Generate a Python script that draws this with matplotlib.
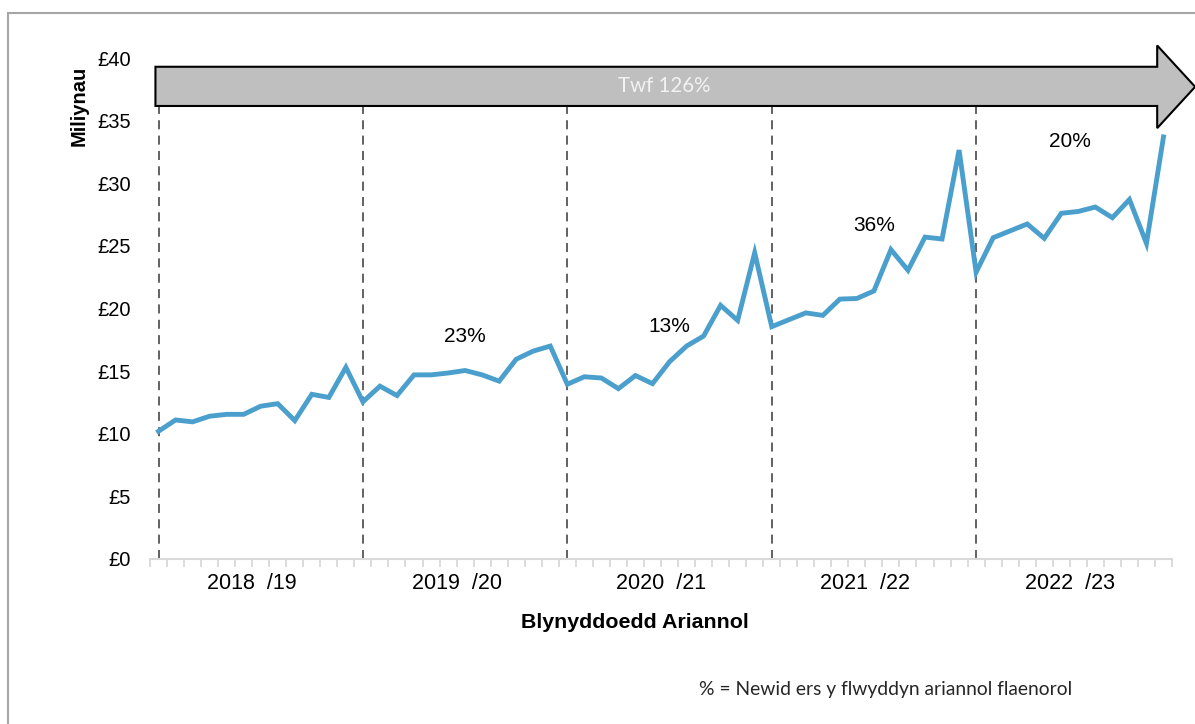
import numpy as np
import matplotlib.pyplot as plt
from matplotlib.patches import Polygon, Rectangle

# Monthly spend (GBP millions), April 2018 - March 2023
values = [10.2, 11.1, 10.95, 11.4, 11.55, 11.55, 12.2, 12.4, 11.05, 13.15, 12.9, 15.3,
          12.55, 13.8, 13.05, 14.7, 14.7, 14.85, 15.05, 14.7, 14.2, 15.95, 16.6, 17.0,
          13.95, 14.55, 14.45, 13.6, 14.65, 14.0, 15.75, 17.0, 17.8, 20.25, 19.05, 24.45,
          18.55, 19.1, 19.65, 19.45, 20.75, 20.8, 21.4, 24.7, 23.05, 25.7, 25.55, 32.65,
          22.9, 25.65, 26.2, 26.75, 25.6, 27.6, 27.75, 28.1, 27.25, 28.7, 25.2, 33.7]
year_labels = ['2018  /19', '2019  /20', '2020  /21', '2021  /22', '2022  /23']
pct_labels = ['23%', '13%', '36%', '20%']
pct_x = [18, 30, 42, 53.5]
pct_y = [17.8, 18.55, 26.6, 33.3]
yticks = [0, 5, 10, 15, 20, 25, 30, 35, 40]
growth_text = 'Twf 126%'

plt.rcParams['font.family'] = ['Liberation Sans', 'DejaVu Sans']

fig = plt.figure(figsize=(11.95, 7.24), dpi=100)
ax = fig.add_axes([150 / 1195, 1 - 559 / 724, 1022 / 1195, 501 / 724])

x = np.arange(len(values))
ax.plot(x, values, color='#4a9fcd', lw=3.5, solid_joinstyle='miter', zorder=3)

ax.set_xlim(-0.5, len(values) - 0.5)
ax.set_ylim(0, 40)

# year separators
for i in range(0, len(values), 12):
    ax.plot([i, i], [0, 36.2], color='#555555', lw=1.3, ls=(0, (5, 3.5)), zorder=2)

# y axis
ax.set_yticks(yticks)
ax.set_yticklabels([f'£{v}' for v in yticks], fontsize=14.5)
ax.tick_params(axis='y', length=0, pad=14)
ax.set_ylabel('Miliynau', fontsize=14.5, fontweight='bold')
ax.yaxis.set_label_coords(-0.06, 0.905)

# x axis: ticks between categories
ax.set_xticks(np.arange(-0.5, len(values)))
ax.set_xticklabels([])
ax.tick_params(axis='x', length=6, width=1.3, color='#d9d9d9', direction='out')
for s in ['top', 'right', 'left']:
    ax.spines[s].set_visible(False)
ax.spines['bottom'].set_color('#d9d9d9')
ax.spines['bottom'].set_linewidth(1.5)

for k, lab in enumerate(year_labels):
    ax.text(k * 12 + 5.5, -1.95, lab, ha='center', va='center', fontsize=15.5)
ax.text(0.474, -0.127, 'Blynyddoedd Ariannol', transform=ax.transAxes,
        ha='center', va='center', fontsize=15.4, fontweight='bold')

for lab, px, py in zip(pct_labels, pct_x, pct_y):
    ax.text(px, py, lab, ha='center', va='center', fontsize=15)

# growth arrow
y0, y1 = 36.17, 39.3
arrow = Polygon([[-0.18, y0], [-0.18, y1], [58.63, y1], [58.63, 41.0],
                 [60.86, 37.7], [58.63, 34.4], [58.63, y0]],
                closed=True, facecolor='#bfbfbf', edgecolor='black', lw=1.5,
                clip_on=False, zorder=4)
ax.add_patch(arrow)
ax.text(29.7, 37.75, growth_text, ha='center', va='center', fontsize=14.8,
        color='#f2f2f2', family=['Lato', 'DejaVu Sans'], zorder=5)

fig.text(886 / 1195, 1 - 690 / 724, '% = Newid ers y flwyddyn ariannol flaenorol',
         ha='center', va='center', fontsize=13.9, color='#262626',
         family=['Lato', 'DejaVu Sans'])

# outer frame
fig.patches.append(Rectangle((8 / 1195, -0.01), 1.1, 1 - 13 / 724 + 0.01,
                             transform=fig.transFigure, fill=False,
                             edgecolor='#a6a6a6', lw=1.5))

fig.savefig('out.png', dpi=100)
